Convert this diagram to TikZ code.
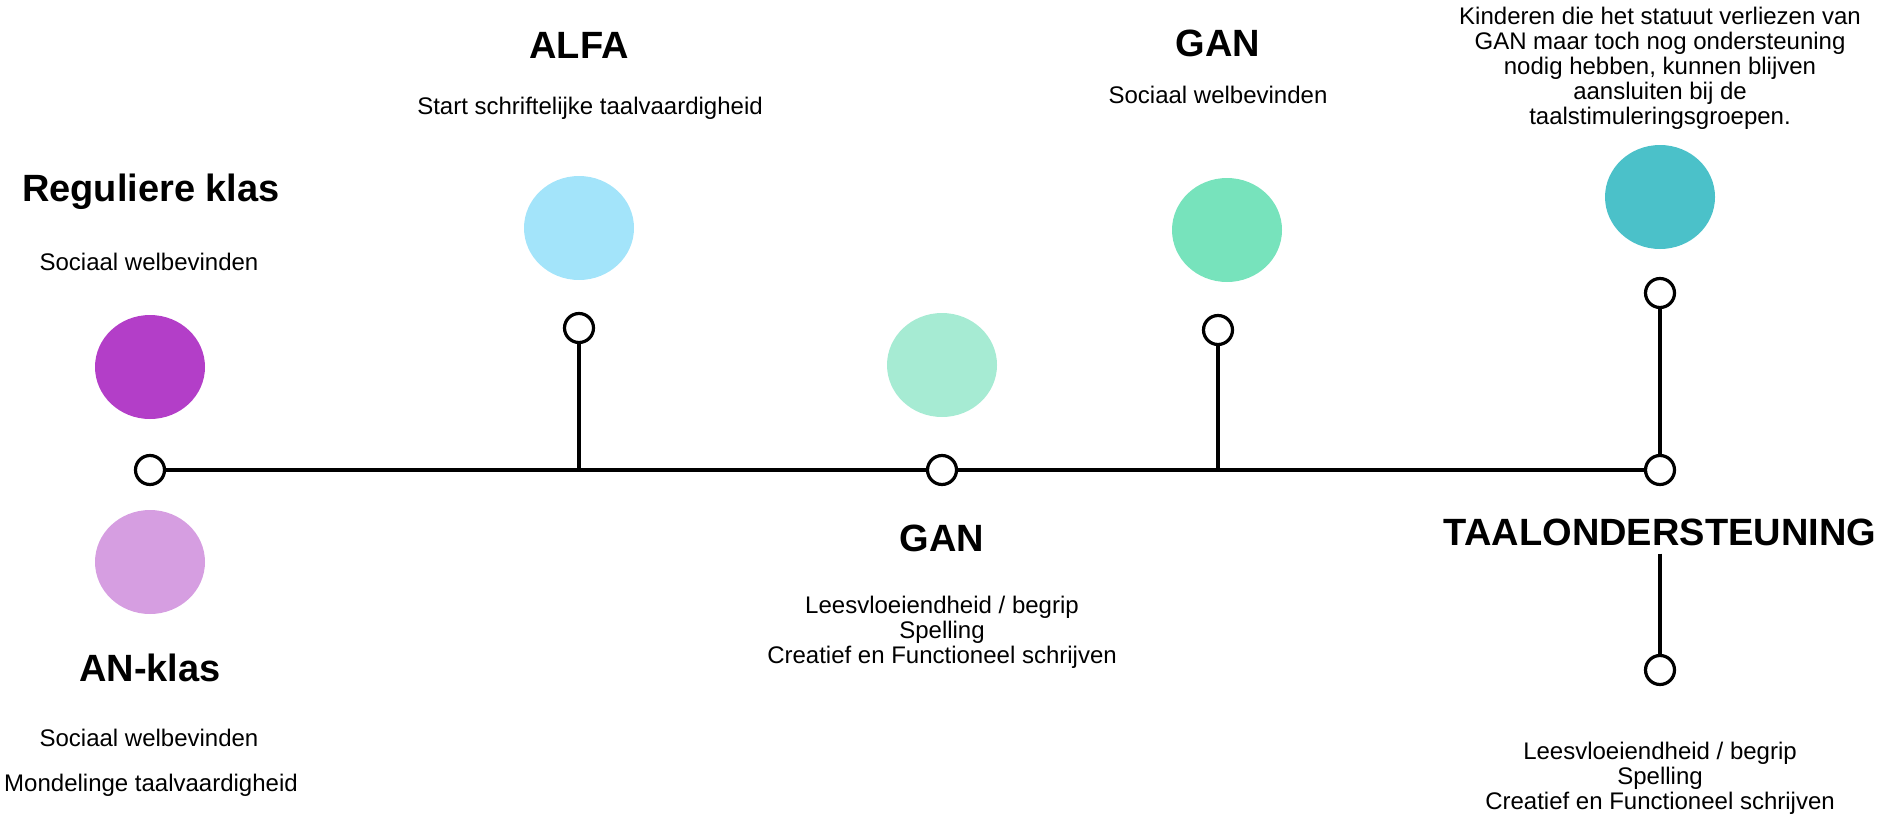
\documentclass[tikz,border=0pt]{standalone}
\usepackage{fontspec}
\setmainfont{Liberation Sans}
\definecolor{mypurple}{HTML}{B33EC8}
\definecolor{mylilac}{HTML}{D69EE1}
\definecolor{myblue}{HTML}{A3E4FA}
\definecolor{mymint}{HTML}{A6EBD3}
\definecolor{mygreen}{HTML}{77E3BC}
\definecolor{myteal}{HTML}{4BC1C9}
\usetikzlibrary{shapes.geometric}

\begin{document}
\begin{tikzpicture}[x=0.5pt,y=-0.5pt,line width=1.6pt,
  knob/.style={draw,circle,fill=white,minimum size=14.5pt,inner sep=0pt},
  blob/.style={ellipse,fill=#1,minimum width=55pt,minimum height=52pt,inner sep=0pt},
  heading/.style={font=\fontsize{19}{22}\selectfont\bfseries},
  txt/.style={font=\fontsize{12}{12.5}\selectfont,align=center}
  ]
  \useasboundingbox (0,0) rectangle (1882,813);

  % the start: reguliere klas and AN-klas
  \node[heading] (reg) at (151,192) {Reguliere klas};
  \node[txt] (regt) at (149,262) {Sociaal welbevinden};
  \node[blob=mypurple] (regb) at (150,367) {};
  \node[knob] (s0) at (150,470) {};
  \node[blob=mylilac] (anb) at (150,562) {};
  \node[heading] (an) at (150,668) {AN-klas};
  \node[txt] (ant1) at (149,738) {Sociaal welbevinden};
  \node[txt] (ant2) at (151,785) {Mondelinge taalvaardigheid};

  % ALFA
  \node[heading] (alfa) at (579,45) {ALFA};
  \node[txt] (alfat) at (590,108) {Start schriftelijke taalvaardigheid};
  \node[blob=myblue] (alfab) at (579,228) {};
  \node[knob] (a1) at (579,328) {};
  \coordinate (a0) at (579,470);

  % GAN below the line
  \node[blob=mymint] (ganb) at (942,365) {};
  \node[knob] (g0) at (942,470) {};
  \node[heading] (gan) at (942,538) {GAN};
  \node[txt] (gant) at (942,632) {Leesvloeiendheid / begrip\\Spelling\\Creatief en Functioneel schrijven};

  % GAN above the line
  \node[heading] (gan2) at (1218,43) {GAN};
  \node[txt] (gan2t) at (1218,95) {Sociaal welbevinden};
  \node[blob=mygreen] (gan2b) at (1227,230) {};
  \node[knob] (g1) at (1218,330) {};
  \coordinate (g2) at (1218,470);

  % taalondersteuning
  \node[txt] (taalp) at (1660,68) {Kinderen die het statuut verliezen van\\GAN maar toch nog ondersteuning\\nodig hebben, kunnen blijven\\aansluiten bij de\\taalstimuleringsgroepen.};
  \node[blob=myteal] (taalb) at (1660,197) {};
  \node[knob] (t1) at (1660,293) {};
  \node[knob] (t0) at (1660,470) {};
  \node[heading] (taal) at (1660,532) {TAALONDERSTEUNING};
  \node[knob] (t2) at (1660,670) {};
  \node[txt] (taalt) at (1660,778) {Leesvloeiendheid / begrip\\Spelling\\Creatief en Functioneel schrijven};

  % the lines
  \draw (s0) -- (g0) -- (t0);
  \draw (a1) -- (a0);
  \draw (g1) -- (g2);
  \draw (t1) -- (t0);
  \draw (taal) -- (t2);
\end{tikzpicture}
\end{document}
